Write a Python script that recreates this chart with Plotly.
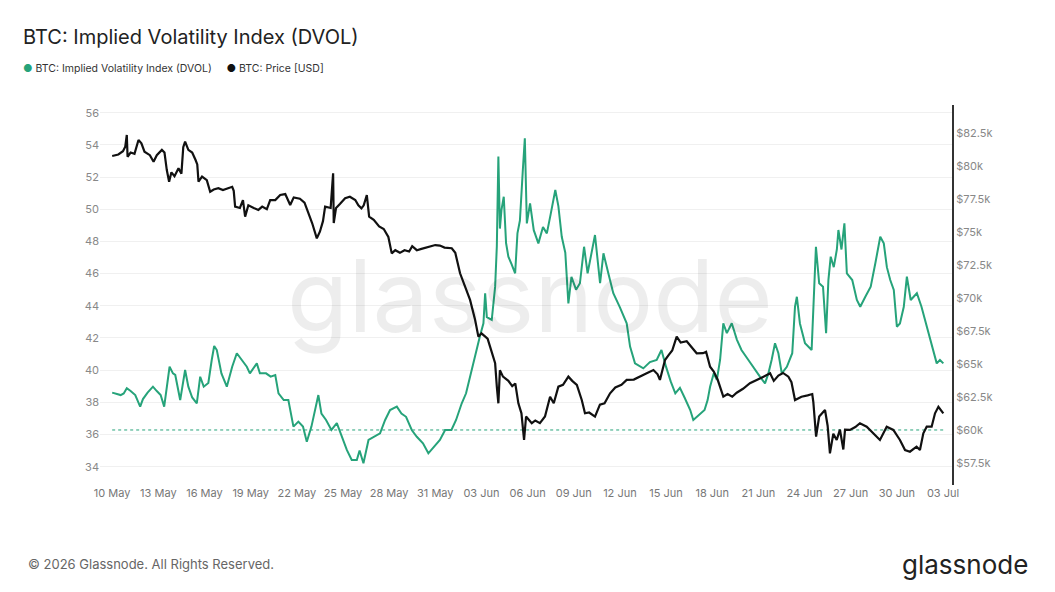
import pandas as pd
import plotly.graph_objects as go

START = "2026-05-10"

# BTC price (k USD): day offset from 10 May, value
price_days = [0.0, 0.4, 0.7, 0.85, 0.95, 1.0, 1.2, 1.45, 1.71, 1.9, 2.1, 2.45, 2.69, 2.9, 3.23, 3.4, 3.55, 3.70, 3.85,
              4.05, 4.31, 4.5, 4.62, 4.74, 4.95, 5.2, 5.42, 5.53, 5.61, 5.84, 6.15, 6.37, 6.6, 6.9, 7.2, 7.55, 7.8,
              7.9, 7.99, 8.3, 8.5, 8.64, 8.85, 9.2, 9.5, 9.75, 10.05, 10.27, 10.6, 10.92, 11.25, 11.57, 11.8, 12.2,
              12.5, 12.76, 13.0, 13.30, 13.5, 13.7, 13.84, 14.2, 14.36, 14.4, 14.55, 14.8, 15.14, 15.45, 15.8, 16.0,
              16.2, 16.35, 16.55, 16.7, 17.0, 17.35, 17.65, 17.95, 18.17, 18.4, 18.7, 19.0, 19.3, 19.5, 19.8, 20.1,
              20.4, 20.66, 21.0, 21.3, 21.6, 22.07, 22.3, 22.61, 22.9, 23.26, 23.59, 23.8, 24.0, 24.2, 24.4, 24.56,
              24.89, 25.0, 25.1, 25.2, 25.4, 25.75, 26.0, 26.2, 26.4, 26.6, 26.77, 26.9, 27.27, 27.5, 27.8, 28.13,
              28.46, 28.7, 29.0, 29.3, 29.65, 29.9, 30.2, 30.52, 30.73, 31.0, 31.38, 31.7, 32.0, 32.36, 32.7, 33.1,
              33.44, 33.9, 34.3, 34.74, 35.18, 35.45, 35.6, 35.93, 36.2, 36.4, 36.69, 36.95, 37.34, 37.6, 37.99,
              38.4, 38.6, 38.86, 39.1, 39.35, 39.72, 40.0, 40.3, 40.59, 41.0, 41.45, 41.9, 42.3, 42.76, 43.0, 43.3,
              43.6, 43.95, 44.15, 44.38, 44.8, 45.2, 45.5, 45.57, 45.68, 45.75, 45.95, 46.33, 46.5, 46.65, 46.87,
              47.09, 47.3, 47.52, 47.63, 47.95, 48.3, 48.6, 49.04, 49.47, 49.9, 50.34, 50.77, 51.2, 51.53, 51.85,
              52.28, 52.5, 52.72, 52.94, 53.26, 53.48, 53.7, 54.02]
price_vals = [80.74, 80.85, 81.1, 81.44, 82.33, 80.68, 81.0, 80.9, 81.95, 81.7, 81.06, 80.8, 80.3, 80.8, 81.2, 81.0,
              79.67, 78.79, 79.5, 79.2, 79.8, 79.4, 81.4, 81.82, 81.2, 81.0, 80.43, 80.1, 78.79, 79.17, 78.9, 78.03,
              78.2, 78.3, 78.15, 78.3, 78.4, 78.1, 76.9, 76.8, 77.4, 76.14, 77.0, 76.8, 76.65, 76.9, 76.7, 77.4,
              77.4, 77.78, 77.85, 77.02, 77.6, 77.5, 77.2, 76.39, 75.64, 74.5, 75.0, 75.8, 76.9, 76.8, 79.42, 75.66,
              76.8, 77.1, 77.53, 77.65, 77.4, 77.0, 76.77, 77.0, 77.78, 76.14, 75.9, 75.4, 75.2, 74.6, 73.36, 73.6,
              73.4, 73.6, 73.5, 73.9, 73.6, 73.7, 73.8, 73.86, 73.99, 73.95, 73.8, 73.75, 73.4, 71.85, 71.0, 69.83,
              68.31, 67.05, 67.3, 67.1, 66.9, 66.29, 65.03, 63.26, 62.0, 64.5, 64.02, 63.7, 63.3, 63.5, 62.0, 61.24,
              59.22, 61.0, 60.49, 60.7, 60.5, 61.0, 62.5, 62.0, 63.26, 63.4, 64.02, 63.7, 63.4, 62.25, 61.24, 61.3,
              60.99, 61.9, 62.0, 62.76, 63.2, 63.4, 63.77, 63.8, 64.0, 64.27, 64.52, 64.2, 63.77, 65.28, 65.7, 66.0,
              67.05, 66.6, 66.7, 66.3, 65.79, 65.8, 65.9, 64.77, 64.4, 63.8, 62.5, 62.7, 62.5, 62.8, 63.1, 63.52,
              63.8, 64.0, 64.27, 63.7, 64.1, 64.3, 64.02, 63.6, 62.25, 62.5, 62.6, 62.7, 62.1, 60.23, 59.47, 61.0,
              61.49, 60.3, 58.21, 59.7, 59.22, 60.0, 58.5, 60.0, 59.98, 60.2, 60.49, 60.23, 59.73, 59.22, 60.23,
              59.98, 59.22, 58.46, 58.33, 58.71, 58.46, 59.73, 60.23, 60.23, 61.24, 61.74, 61.24]

# BTC DVOL: day offset from 10 May, value
dvol_days = [0.0, 0.3, 0.55, 0.75, 0.95, 1.2, 1.5, 1.82, 2.0, 2.3, 2.47, 2.65, 2.9, 3.15, 3.38, 3.55, 3.73, 3.95, 4.1,
             4.42, 4.74, 4.95, 5.2, 5.5, 5.72, 5.95, 6.25, 6.47, 6.63, 6.8, 7.1, 7.45, 7.8, 8.1, 8.4, 8.75, 8.95,
             9.4, 9.6, 10.0, 10.3, 10.6, 10.81, 11.15, 11.45, 11.78, 12.1, 12.4, 12.65, 12.95, 13.4, 13.6, 13.9,
             14.25, 14.6, 14.92, 15.25, 15.57, 15.9, 16.08, 16.33, 16.66, 17.0, 17.41, 17.74, 18.06, 18.5, 18.8,
             19.1, 19.47, 19.8, 20.2, 20.55, 20.9, 21.3, 21.64, 22.05, 22.35, 22.72, 23.0, 23.37, 23.69, 23.9,
             24.13, 24.24, 24.35, 24.67, 24.89, 25.0, 25.1, 25.2, 25.3, 25.45, 25.6, 25.75, 25.95, 26.19, 26.34,
             26.5, 26.69, 26.82, 26.95, 27.16, 27.4, 27.7, 28.0, 28.25, 28.5, 28.8, 29.0, 29.22, 29.45, 29.65,
             29.85, 30.15, 30.4, 30.67, 30.9, 31.38, 31.71, 31.93, 32.25, 32.57, 33.0, 33.44, 33.66, 33.98, 34.52,
             34.95, 35.39, 35.7, 36.0, 36.3, 36.6, 36.9, 37.2, 37.57, 37.77, 38.1, 38.5, 38.7, 38.86, 39.1, 39.3,
             39.51, 39.72, 39.95, 40.27, 40.6, 40.9, 41.35, 41.78, 42.1, 42.43, 42.65, 42.86, 43.08, 43.3, 43.52,
             43.85, 44.2, 44.38, 44.5, 44.7, 45.03, 45.46, 45.74, 45.95, 46.2, 46.4, 46.55, 46.7, 46.9, 47.1,
             47.2, 47.4, 47.59, 47.75, 48.1, 48.4, 48.62, 48.95, 49.3, 49.6, 49.92, 50.15, 50.35, 50.57, 50.8,
             51.0, 51.2, 51.45, 51.65, 51.9, 52.3, 52.6, 52.94, 53.26, 53.59, 53.8, 54.02]
dvol_vals = [38.6, 38.5, 38.45, 38.55, 38.87, 38.7, 38.45, 37.73, 38.2, 38.6, 38.77, 38.97, 38.7, 38.45, 37.73, 39.0,
             40.21, 39.8, 39.7, 38.14, 40.01, 38.97, 38.3, 37.94, 39.59, 38.97, 39.2, 40.63, 41.5, 41.25, 39.8,
             38.97, 40.21, 41.05, 40.63, 40.21, 39.8, 40.42, 39.8, 39.8, 39.6, 39.7, 38.56, 38.14, 38.14, 36.49,
             36.8, 36.49, 35.55, 36.49, 38.45, 37.3, 36.9, 36.28, 36.7, 35.86, 35.04, 34.41, 34.41, 35.0, 34.21,
             35.66, 35.86, 36.07, 36.9, 37.52, 37.73, 37.3, 37.1, 36.28, 35.86, 35.45, 34.83, 35.25, 35.66, 36.28,
             36.28, 36.9, 37.94, 38.56, 40.01, 41.46, 42.1, 42.91, 44.78, 43.3, 43.12, 45.19, 47.7, 53.27, 48.8,
             49.95, 50.78, 47.9, 47.05, 46.6, 46.02, 48.5, 49.3, 52.44, 54.41, 49.12, 50.37, 48.7, 47.88, 48.9,
             48.5, 49.7, 51.2, 50.2, 48.29, 47.3, 44.15, 45.8, 45.0, 45.4, 47.67, 46.02, 48.4, 45.4, 47.26, 46.0,
             44.78, 43.9, 42.91, 41.46, 40.42, 40.11, 40.5, 40.63, 41.25, 40.2, 39.3, 38.56, 38.9, 38.3, 37.52,
             36.9, 37.2, 37.52, 38.14, 38.97, 39.8, 39.4, 40.63, 42.91, 42.3, 42.91, 41.9, 41.25, 40.63, 40.01,
             39.6, 39.18, 39.8, 40.63, 41.67, 41.05, 39.8, 40.21, 41.05, 43.94, 44.56, 42.9, 41.67, 41.25, 47.67,
             45.4, 45.19, 42.29, 45.6, 47.05, 46.4, 47.5, 48.71, 47.5, 49.12, 46.02, 45.6, 44.36, 43.94, 44.56,
             45.19, 46.64, 48.29, 47.88, 46.4, 45.6, 44.98, 42.7, 42.9, 43.94, 45.81, 44.36, 44.78, 43.94, 42.7,
             41.46, 40.42, 40.63, 40.42]

dvol_ref_level = 36.28
left_ticks = list(range(34, 57, 2))
right_ticks = [57.5, 60, 62.5, 65, 67.5, 70, 72.5, 75, 77.5, 80, 82.5]
right_tick_text = ["$57.5k", "$60k", "$62.5k", "$65k", "$67.5k", "$70k", "$72.5k", "$75k", "$77.5k", "$80k", "$82.5k"]
x_tick_dates = pd.date_range(START, "2026-07-03", freq="3D")

base = pd.Timestamp(START)
price_x = base + pd.to_timedelta(price_days, unit="D")
dvol_x = base + pd.to_timedelta(dvol_days, unit="D")

GREEN = "#26a37a"
FONT = "Inter"

fig = go.Figure()
fig.add_trace(go.Scatter(x=[dvol_x[0], dvol_x[-1]], y=[dvol_ref_level, dvol_ref_level], mode="lines",
                         line=dict(color=GREEN, width=1, dash="dot"), showlegend=False, hoverinfo="skip"))
fig.add_trace(go.Scatter(x=dvol_x, y=dvol_vals, mode="lines", name="BTC: Implied Volatility Index (DVOL)",
                         line=dict(color=GREEN, width=2)))
fig.add_trace(go.Scatter(x=price_x, y=price_vals, mode="lines", name="BTC: Price [USD]", yaxis="y2",
                         line=dict(color="#111111", width=2.2)))

fig.update_layout(
    width=1055, height=592,
    margin=dict(l=100, r=103, t=105, b=107),
    paper_bgcolor="white", plot_bgcolor="white",
    showlegend=False,
    font=dict(family=FONT, color="#777"),
    xaxis=dict(
        range=[base - pd.Timedelta(hours=19), pd.Timestamp("2026-07-03") + pd.Timedelta(hours=14)],
        tickvals=x_tick_dates, tickformat="%d %b", showgrid=False, zeroline=False,
        tickfont=dict(size=11, color="#777"), ticks="", showline=False,
    ),
    yaxis=dict(
        range=[32.86, 56.48], tickvals=left_ticks, showgrid=True, gridcolor="#f0f0f0", gridwidth=1,
        zeroline=False, tickfont=dict(size=11, color="#888"), ticks="", ticklen=4,
    ),
    yaxis2=dict(
        range=[55.81, 84.6], overlaying="y", side="right", tickvals=right_ticks, ticktext=right_tick_text,
        showgrid=False, zeroline=False, showline=True, linecolor="#333", linewidth=2,
        tickfont=dict(size=11, color="#888"), ticks="", ticklen=6,
    ),
    annotations=[
        dict(text="BTC: Implied Volatility Index (DVOL)", xref="paper", yref="paper",
             x=-0.0925, y=1.179, xanchor="left", yanchor="middle", showarrow=False,
             font=dict(size=20, color="#222", family=FONT)),
        dict(text=f"<span style='color:{GREEN}'>●</span> BTC: Implied Volatility Index (DVOL)"
                  "     <span style='color:#111'>●</span> BTC: Price [USD]",
             xref="paper", yref="paper", x=-0.0925, y=1.097, xanchor="left", yanchor="middle",
             showarrow=False, font=dict(size=10.5, color="#333", family=FONT)),
        dict(text="glassnode", xref="paper", yref="paper", x=0.505, y=0.50, xanchor="center",
             yanchor="middle", showarrow=False, font=dict(size=100, color="rgba(0,0,0,0.07)", family=FONT)),
        dict(text="© 2026 Glassnode. All Rights Reserved.", xref="paper", yref="paper",
             x=-0.087, y=-0.207, xanchor="left", yanchor="middle", showarrow=False,
             font=dict(size=13, color="#666", family=FONT)),
        dict(text="glassnode", xref="paper", yref="paper", x=1.0915, y=-0.21, xanchor="right",
             yanchor="middle", showarrow=False, font=dict(size=26, color="#222", family=FONT)),
    ],
)

fig.write_html("out.html")
